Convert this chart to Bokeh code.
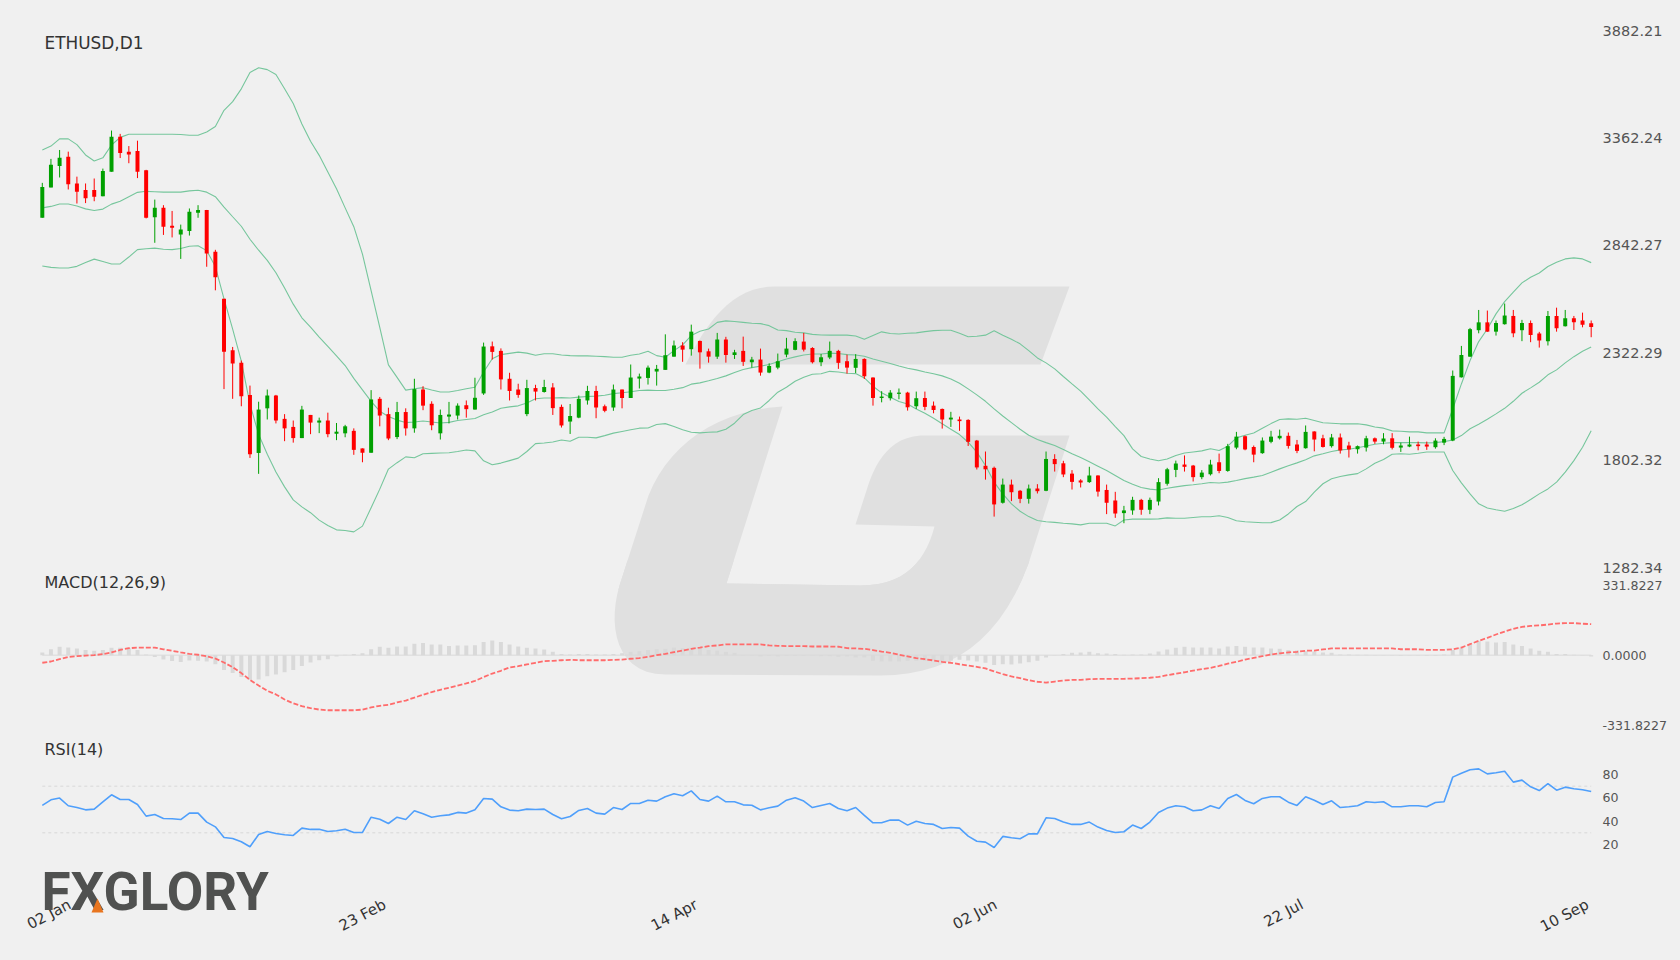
from bokeh.plotting import figure
from bokeh.layouts import column
from bokeh.models import Range1d, FixedTicker, NumeralTickFormatter, Label, PolyAnnotation
from bokeh.embed import file_html
from bokeh.resources import INLINE

BG = "#f0f0f0"
title = "ETHUSD,D1"
price_ticks = [3882.21, 3362.24, 2842.27, 2322.29, 1802.32, 1282.34]
macd_ticks = [331.8227, 0.0, -331.8227]
rsi_ticks = [80, 60, 40, 20]
rsi_levels = [70, 30]
date_positions = [3.2, 39.6, 75.6, 110.2, 145.6, 178.6]
date_labels = ["02 Jan", "23 Feb", "14 Apr", "02 Jun", "22 Jul", "10 Sep"]

direction = list(
    "GGGRRRRGGR" "RRRGRRGGGR" "RRRRRGGRRR" "GRGRGGRRGR" "RGRGRRGGGR" "GGRRRRGRGR"
    "RGGGRRGRGG" "GGGGRGRRGR" "GRGRGGGGRR" "GGRRGRRGGG" "RGRRRGRRRR" "RGRRGRGRRR" "RGRRR"
    "GGRGG" "GGRRGGRGGR" "RGGGRRGRRG" "RRGGRGRGGR" "RGGGGGGRGG" "RGRRGRGRRR"
)

highs = [3145,3261,3304,3296,3175,3142,3166,3214,3398,3382,
         3323,3349,3208,3064,3037,3009,2943,3021,3037,3014,
         2821,2584,2351,2285,2164,2086,2145,2119,2026,1995,
         2066,2022,2009,2033,1983,1974,1957,1860,2142,2109,
         2057,2085,2054,2197,2161,2088,2048,2085,2078,2092,
         2202,2372,2377,2344,2226,2173,2192,2168,2192,2176,
         2072,2075,2116,2163,2163,2072,2169,2145,2266,2222,
         2261,2264,2412,2382,2374,2459,2382,2343,2419,2400,
         2337,2401,2303,2343,2272,2319,2395,2393,2419,2350,
         2317,2377,2337,2314,2316,2296,2204,2137,2142,2150,
         2134,2135,2135,2087,2053,2037,2014,2001,1901,1845,
         1772,1714,1709,1659,1685,1687,1845,1832,1800,1755,
         1711,1771,1730,1685,1650,1582,1626,1616,1622,1716,
         1766,1801,1826,1780,1755,1805,1835,1882,1940,1922,
         1874,1913,1945,1951,1937,1901,1971,1943,1926,1930,
         1932,1892,1874,1921,1913,1934,1934,1888,1917,1893,
         1893,1909,1916,2237,2356,2443,2530,2527,2479,2561,
         2530,2482,2479,2424,2525,2541,2530,2501,2517,2479]
body_tops = [3125,3233,3266,3271,3142,3111,3111,3202,3368,3368,
             3296,3299,3206,3024,3024,2938,2919,3005,3014,3014,
             2812,2584,2335,2275,2119,2048,2116,2116,2003,1964,
             2048,2022,1995,1995,1941,1967,1945,1860,2097,2100,
             2026,2036,2036,2147,2145,2076,2022,2024,2067,2069,
             2105,2353,2354,2332,2197,2145,2152,2152,2157,2155,
             2061,2017,2100,2138,2138,2064,2145,2145,2203,2208,
             2251,2245,2311,2358,2358,2425,2380,2330,2387,2387,
             2325,2332,2290,2290,2259,2282,2343,2379,2377,2346,
             2301,2332,2332,2282,2293,2293,2203,2111,2130,2130,
             2130,2103,2104,2067,2051,2009,2000,1998,1898,1776,
             1766,1685,1685,1655,1666,1666,1809,1809,1788,1738,
             1705,1729,1729,1659,1608,1560,1611,1611,1611,1697,
             1759,1787,1782,1777,1743,1782,1793,1871,1917,1919,
             1867,1898,1917,1921,1921,1879,1940,1942,1909,1913,
             1913,1874,1871,1909,1909,1908,1909,1874,1879,1879,
             1879,1898,1906,2211,2312,2437,2470,2470,2467,2503,
             2501,2467,2467,2416,2501,2501,2490,2490,2479,2466]
body_bottoms = [2976,3123,3227,3138,3102,3071,3078,3080,3199,3289,
                3282,3199,2976,2978,2933,2928,2895,2912,3000,2803,
                2688,2328,2271,2112,1832,1838,2054,1995,1957,1910,
                1910,1985,1985,1929,1931,1933,1853,1839,1839,2019,
                1908,1915,1957,1957,2067,1972,1933,2014,2019,2050,
                2048,2126,2327,2194,2138,2119,2026,2135,2133,2055,
                1971,1990,2009,2092,2058,2042,2058,2104,2104,2198,
                2201,2232,2240,2304,2338,2340,2325,2304,2304,2312,
                2312,2279,2277,2227,2227,2251,2314,2337,2338,2277,
                2277,2300,2274,2251,2250,2209,2104,2104,2103,2124,
                2059,2064,2061,2046,2000,2000,1992,1892,1768,1759,
                1589,1597,1648,1616,1616,1653,1655,1784,1734,1698,
                1695,1697,1651,1597,1545,1547,1560,1563,1563,1603,
                1689,1756,1771,1721,1721,1735,1751,1751,1864,1855,
                1830,1837,1892,1909,1872,1848,1861,1903,1867,1871,
                1850,1855,1856,1864,1893,1893,1863,1864,1869,1871,
                1869,1866,1888,1898,2204,2304,2432,2425,2425,2461,
                2417,2432,2409,2382,2379,2441,2451,2470,2459,2448]
lows = [2976,3123,3171,3113,3045,3047,3056,3080,3199,3265,
        3240,3168,2973,2855,2893,2881,2777,2890,2976,2739,
        2625,2147,2100,2064,1814,1737,2000,1981,1895,1888,
        1910,1929,1934,1914,1900,1914,1829,1793,1839,1967,
        1900,1905,1922,1936,2045,1948,1903,1981,2000,2009,
        2048,2119,2290,2145,2092,2105,2016,2092,2130,2022,
        1961,1930,2006,2072,2006,2035,2042,2054,2104,2150,
        2169,2164,2240,2304,2279,2309,2246,2275,2293,2275,
        2293,2259,2251,2212,2224,2243,2301,2335,2329,2271,
        2258,2292,2245,2222,2225,2196,2067,2083,2092,2098,
        2043,2051,2045,2030,1956,1964,1945,1872,1758,1709,
        1530,1593,1605,1595,1593,1642,1653,1748,1721,1661,
        1671,1693,1627,1542,1524,1498,1539,1539,1542,1584,
        1680,1721,1748,1700,1711,1729,1740,1747,1856,1851,
        1793,1834,1885,1903,1859,1837,1859,1846,1864,1864,
        1835,1816,1835,1845,1882,1880,1855,1843,1866,1851,
        1853,1859,1876,1895,2203,2303,2417,2424,2406,2459,
        2398,2379,2374,2348,2358,2425,2450,2433,2446,2398]

bb_upper = [3304,3323,3358,3358,3330,3280,3251,3266,3328,3365,
            3380,3380,3380,3380,3380,3380,3379,3375,3375,3391,
            3418,3496,3538,3600,3679,3702,3693,3669,3600,3529,
            3430,3346,3278,3197,3116,3024,2933,2800,2624,2446,
            2264,2204,2142,2149,2154,2143,2133,2133,2140,2149,
            2156,2230,2294,2314,2320,2326,2321,2311,2318,2318,
            2312,2309,2308,2308,2306,2304,2301,2301,2311,2317,
            2330,2309,2301,2333,2361,2406,2427,2438,2470,2477,
            2474,2470,2466,2464,2454,2433,2430,2422,2419,2412,
            2409,2408,2408,2408,2404,2388,2406,2424,2416,2414,
            2417,2419,2425,2430,2432,2432,2417,2400,2403,2408,
            2429,2408,2388,2366,2333,2298,2274,2245,2208,2172,
            2137,2095,2051,2011,1966,1922,1858,1821,1809,1800,
            1809,1826,1838,1843,1848,1858,1850,1871,1911,1924,
            1935,1958,1980,2000,2003,2001,2006,1995,1984,1982,
            1979,1979,1979,1974,1964,1958,1945,1943,1940,1940,
            1935,1935,1935,2051,2172,2285,2377,2438,2511,2570,
            2616,2661,2688,2709,2740,2761,2777,2782,2777,2759]
bb_middle = [3024,3031,3043,3043,3033,3019,3011,3018,3042,3056,
             3078,3099,3104,3102,3100,3100,3100,3106,3109,3100,
             3078,3028,2981,2935,2872,2819,2770,2710,2636,2558,
             2492,2447,2399,2354,2308,2261,2199,2143,2088,2040,
             2014,1997,1985,1988,1993,1988,1983,1986,1995,2000,
             2005,2023,2036,2054,2061,2066,2080,2100,2104,2104,
             2106,2104,2108,2111,2113,2117,2125,2129,2134,2140,
             2142,2140,2140,2146,2154,2171,2177,2187,2198,2211,
             2227,2242,2251,2258,2266,2279,2293,2303,2312,2317,
             2317,2321,2319,2314,2312,2306,2293,2282,2271,2259,
             2248,2240,2230,2221,2211,2196,2175,2148,2119,2088,
             2051,2017,1985,1953,1924,1903,1888,1874,1855,1834,
             1816,1795,1774,1753,1729,1705,1687,1671,1663,1659,
             1667,1674,1680,1684,1689,1695,1693,1697,1705,1714,
             1721,1729,1745,1761,1776,1790,1805,1824,1834,1845,
             1853,1856,1863,1872,1880,1885,1888,1888,1888,1888,
             1887,1888,1893,1901,1922,1955,1977,2001,2027,2054,
             2088,2127,2153,2180,2216,2240,2274,2304,2330,2351]
bb_lower = [2743,2736,2733,2733,2741,2760,2776,2764,2752,2753,
            2786,2822,2826,2829,2824,2822,2827,2838,2841,2817,
            2740,2584,2437,2282,2074,1928,1832,1746,1674,1611,
            1577,1549,1513,1487,1466,1463,1456,1484,1573,1663,
            1760,1791,1819,1815,1834,1836,1838,1839,1845,1852,
            1848,1800,1781,1789,1801,1813,1845,1883,1886,1891,
            1901,1895,1914,1914,1911,1922,1934,1942,1950,1958,
            1959,1976,1980,1966,1950,1938,1935,1938,1940,1953,
            1982,2024,2043,2056,2092,2132,2156,2185,2204,2219,
            2221,2233,2230,2224,2222,2201,2161,2129,2108,2087,
            2075,2051,2030,2006,1979,1953,1927,1890,1842,1777,
            1697,1640,1592,1556,1530,1511,1505,1502,1498,1495,
            1490,1498,1498,1498,1485,1514,1518,1518,1518,1519,
            1524,1522,1522,1526,1529,1529,1534,1526,1510,1505,
            1503,1500,1501,1514,1543,1579,1603,1648,1689,1713,
            1724,1732,1738,1761,1788,1806,1832,1834,1832,1837,
            1843,1843,1843,1753,1693,1640,1592,1572,1563,1556,
            1569,1587,1613,1640,1664,1697,1745,1801,1866,1945]

macd_hist = [13,28,40,36,32,24,21,24,35,35,
             33,25,3,-9,-21,-28,-32,-25,-27,-30,
             -43,-70,-85,-104,-117,-115,-100,-92,-81,-70,
             -51,-35,-24,-19,-6,2,6,9,28,40,
             35,41,41,54,58,51,51,44,46,46,
             47,62,70,62,51,41,35,32,27,16,
             6,3,6,6,3,3,6,9,16,19,
             25,28,30,36,33,35,35,24,22,16,
             11,2,1,-6,-3,-6,-3,-3,-3,-2,
             -5,-5,-8,-6,-11,-11,-27,-30,-30,-30,
             -27,-27,-27,-25,-28,-27,-22,-25,-30,-36,
             -47,-43,-44,-40,-33,-27,-11,-2,5,11,
             13,16,9,8,5,2,3,3,8,17,
             27,35,40,36,36,36,32,41,43,40,
             36,36,32,30,25,22,19,17,13,11,
             3,3,2,2,1,1,-2,-3,-2,-2,
             -3,-3,3,25,36,51,66,65,60,62,
             51,43,32,21,16,6,6,2,-2,-6]
macd_signal = [-36,-30,-19,-9,-5,-2,0,5,13,25,
               33,36,36,36,28,21,13,6,2,-5,
               -16,-35,-57,-85,-117,-144,-169,-186,-210,-228,
               -242,-251,-258,-261,-261,-261,-261,-258,-248,-240,
               -235,-224,-215,-201,-188,-175,-164,-155,-144,-134,
               -122,-104,-87,-74,-58,-52,-44,-36,-28,-27,
               -24,-22,-24,-24,-24,-24,-22,-21,-17,-14,
               -8,0,6,14,22,30,36,43,46,51,
               51,51,51,51,46,44,43,43,43,41,
               41,41,40,33,32,30,24,17,11,2,
               -6,-14,-19,-25,-32,-36,-43,-49,-55,-63,
               -77,-90,-101,-109,-119,-126,-130,-125,-120,-117,
               -117,-114,-112,-112,-112,-112,-111,-109,-107,-103,
               -95,-88,-81,-73,-66,-60,-51,-40,-32,-21,
               -13,-5,3,9,13,16,21,22,27,32,
               32,32,32,32,32,32,32,28,28,28,
               25,25,25,28,36,52,68,82,98,112,
               125,134,139,141,145,150,152,152,149,147]

rsi = [53.5,58.3,59.8,53.2,51.7,49.7,50.3,56.6,62.6,58.6,
       58.6,54.3,44.3,45.7,42.3,42,41.4,46.9,46.9,39.2,
       35.1,26,25.1,22.3,18,28.6,31.1,29.4,28.3,27.7,
       34,32.9,33.1,31.1,31.7,33.1,30.3,30.3,43.4,41.7,
       38,43.4,41.4,48.9,46.3,43.4,44.6,45.4,47.5,46.9,
       49.7,59.5,58.9,52.3,49.5,48.9,50.3,50,50.3,45.7,
       42,44,49.2,50.9,46.9,46,51.7,50,55.2,55.2,
       58,57.2,60.9,63.5,61.8,66,58.6,57.2,61.5,56.6,
       56.6,54,53.7,49.7,51.5,52.9,58,60,57.2,51.7,
       53.5,55.2,50.9,48.9,51.7,44.9,38.6,38.6,40.9,40.9,
       36.6,40,38,37.2,33.7,34.6,34,27.1,22.8,22,
       17.4,26.9,25.7,24.9,29.1,29.1,42.9,42.3,39.2,37.2,
       37.2,39.2,34.9,32,30.3,30.9,36.6,33.7,39.2,47.5,
       51.2,53.2,52.3,48.9,49.7,53.2,50.9,59.5,62.9,57.8,
       54.9,59.5,60.9,60.9,56.3,53.5,60.9,58,54.3,57.5,
       51.7,52.3,53.2,56.6,56,56.6,52.3,52.3,53.2,53.2,
       52.3,56,56.6,77.8,81.2,84.1,84.9,80.6,81.5,82.9,
       73.5,75.2,69.5,66.3,72.3,66.6,69.2,67.8,66.9,65.5]

# ---------- layout (page pixels) ----------
FRAME_L, FRAME_R = 36, 1594
P_TOP, P_BOT = 30, 590
M_TOP, M_BOT = 560, 732
R_TOP, R_BOT = 732, 916
X_PER_BAR = 8.653
X0_PX = 41.8

n = len(highs)
xs = list(range(n))
x_range = Range1d((FRAME_L - X0_PX) / X_PER_BAR, (FRAME_R - X0_PX) / X_PER_BAR)

def px_x(px):
    return (px - X0_PX) / X_PER_BAR

PRICE_PER_PX = (price_ticks[0] - price_ticks[-1]) / (567.3 - 30)
def price_at(py):
    return price_ticks[-1] + (567.3 - py) * PRICE_PER_PX
def macd_at(py):
    return (654.67 - py) * 4.74
def rsi_at(py):
    return 30 + (832.3 - py) / 1.165

def panel(top, bot, yr, ticks, font, mb_top, mb_bot, fmt, fill=BG):
    p = figure(frame_width=FRAME_R - FRAME_L, frame_height=bot - top,
               x_range=x_range, y_range=yr, y_axis_location="right",
               toolbar_location=None, output_backend="svg",
               background_fill_color=fill, border_fill_color=fill,
               min_border_left=FRAME_L, min_border_right=78,
               min_border_top=mb_top, min_border_bottom=mb_bot)
    p.outline_line_color = None
    p.grid.visible = False
    ax = p.yaxis[0]
    ax.ticker = FixedTicker(ticks=ticks)
    ax.formatter = NumeralTickFormatter(format=fmt)
    ax.axis_line_color = None
    ax.major_tick_line_color = None
    ax.minor_tick_line_color = None
    ax.major_label_text_font = "DejaVu Sans"
    ax.major_label_text_font_size = font
    ax.major_label_text_color = "#555555"
    ax.major_label_standoff = 2
    return p

def caption(p, text, x, y, size):
    p.add_layout(Label(x=x, y=y, text=text, text_font="DejaVu Sans", text_font_size=size,
                       text_color="#333333", text_baseline="middle", text_align="left"))

def bez(p0, p1, p2, p3, k=14):
    out = []
    for i in range(k + 1):
        t = i / k
        u = 1 - t
        out.append((u**3*p0[0] + 3*u*u*t*p1[0] + 3*u*t*t*p2[0] + t**3*p3[0],
                    u**3*p0[1] + 3*u*u*t*p1[1] + 3*u*t*t*p2[1] + t**3*p3[1]))
    return out

# watermark outline (page pixels, decoration only)
wm_top = bez((685,364),(712,310),(738,286),(775,286)) + [(1069,286),(1040,364)]
wm_body = (bez((782,406),(715,410),(668,445),(648,495)) + [(619,585)]
           + bez((619,585),(607,625),(615,674),(665,674))
           + bez((880,675),(950,675),(1000,640),(1028,563))
           + [(1069,435)]
           + bez((920,435),(885,437),(872,470),(866,490))
           + [(855,524),(934,526)]
           + bez((934,526),(925,560),(905,585),(860,585))
           + [(726,583)])
WM = "#e0e0e0"

def add_watermark(p, fy):
    for shape in (wm_top, wm_body):
        p.patch([px_x(a) for a, b in shape], [fy(b) for a, b in shape],
                fill_color=WM, line_color=None, level="underlay")

# ---------- price ----------
p1 = panel(P_TOP, P_BOT, Range1d(price_at(P_BOT), price_at(P_TOP)), price_ticks, "14.5px", P_TOP, 0, "0.00")
add_watermark(p1, price_at)
colors = ["#00a000" if d == "G" else "#ff0000" for d in direction]
for band in (bb_upper, bb_middle, bb_lower):
    p1.line(xs, band, line_color="#76c69c", line_width=1.1)
p1.segment(xs, highs, xs, lows, line_color=colors, line_width=1)
p1.vbar(x=xs, top=body_tops, bottom=body_bottoms, width=0.46, fill_color=colors, line_color=None)
caption(p1, title, px_x(44), price_at(42), "16.9px")

# ---------- MACD (transparent, overlaps the foot of the price panel) ----------
p2 = panel(M_TOP, M_BOT, Range1d(macd_at(M_BOT), macd_at(M_TOP)), macd_ticks, "12.6px", 0, 0, "0.0000", fill=None)
p2.margin = (M_TOP - P_BOT, 0, 0, 0)
add_watermark(p2, macd_at)
p2.vbar(x=xs, top=macd_hist, bottom=0, width=0.46, fill_color="#d9d9d9", line_color=None)
p2.line([xs[0], xs[-1]], [0, 0], line_color="#d9d9d9", line_width=1)
p2.line(xs, macd_signal, line_color="#ff6b6b", line_width=1.8, line_dash="5 2")
caption(p2, "MACD(12,26,9)", px_x(44), macd_at(581.7), "16px")

# ---------- RSI ----------
p3 = panel(R_TOP, R_BOT, Range1d(rsi_at(R_BOT), rsi_at(R_TOP)), rsi_ticks, "12.6px", 0, 952 - R_BOT, "0")
for lv in rsi_levels:
    p3.line([xs[0], xs[-1]], [lv, lv], line_color="#d8d8d8", line_width=1, line_dash="3 3")
p3.line(xs, rsi, line_color="#4f9ffb", line_width=1.6)
caption(p3, "RSI(14)", px_x(44), rsi_at(749.3), "16px")

xa = p3.xaxis[0]
xa.ticker = FixedTicker(ticks=date_positions)
xa.major_label_overrides = dict(zip(date_positions, date_labels))
xa.major_label_orientation = 0.48
xa.axis_line_color = None
xa.major_tick_line_color = None
xa.minor_tick_line_color = None
xa.major_label_text_font = "DejaVu Sans"
xa.major_label_text_font_size = "15px"
xa.major_label_text_color = "#333333"
xa.major_label_standoff = -19

for p in (p1, p2):
    p.xaxis.visible = False

# logo
p3.add_layout(Label(x=px_x(41), y=rsi_at(891.5), text="FXGLORY", text_font="Roboto", text_font_style="bold",
                    text_font_size="53px", text_color="#505150", text_baseline="middle", text_align="left"))
tri = [(97,898),(91,912),(103,912)]
p3.add_layout(PolyAnnotation(xs=[px_x(a) for a, b in tri], ys=[rsi_at(b) for a, b in tri],
                             fill_color="#e8751f", fill_alpha=1, line_color=None))

layout = column(p1, p2, p3, spacing=0)
html = file_html(layout, INLINE, title="ETHUSD,D1")
html = html.replace("</head>", "<style>html,body{background:#f0f0f0;}</style></head>", 1)
open("out.html", "w").write(html)
print(n, len(direction), len(bb_upper), len(bb_middle), len(bb_lower), len(macd_hist), len(macd_signal), len(rsi))
